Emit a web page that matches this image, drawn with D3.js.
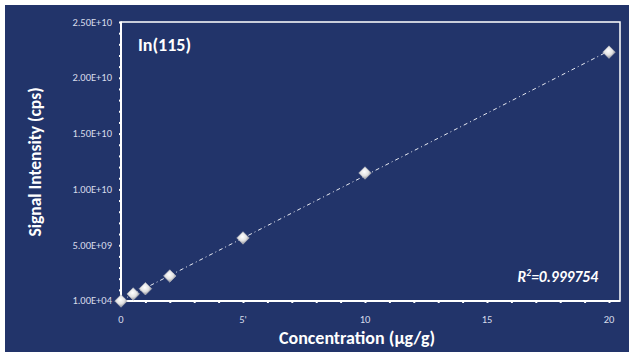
<!DOCTYPE html>
<html><head><meta charset="utf-8">
<script src="https://cdn.jsdelivr.net/npm/d3@7"></script>
<style>
html,body{margin:0;padding:0;background:#fff;}
svg{display:block;}
text{font-family:Calibri,Carlito,"Open Sans","Liberation Sans",sans-serif;}
</style></head><body>
<div id="chart"></div>
<script>
const concentrations = [0, 0.5, 1, 2, 5, 10, 20];
const intensities = [1.0e4, 6.3e8, 1.1e9, 2.24e9, 5.65e9, 1.147e10, 2.23e10];
const xTickValues = [0, 5, 10, 15, 20];
const xTickLabels = ["0", "5'", "10", "15", "20"];
const yTickValues = [1e4, 5e9, 1e10, 1.5e10, 2e10, 2.5e10];
const yTickLabels = ["1.00E+04", "5.00E+09", "1.00E+10", "1.50E+10", "2.00E+10", "2.50E+10"];
const chartTitle = "In(115)";
const r2Text = "0.999754";

const W = 629, H = 354;
const svg = d3.select("#chart").append("svg").attr("width", W).attr("height", H);
const defs = svg.append("defs");
const grad = defs.append("radialGradient").attr("id", "mk").attr("cx", "45%").attr("cy", "40%").attr("r", "60%");
grad.append("stop").attr("offset", "0%").attr("stop-color", "#ffffff");
grad.append("stop").attr("offset", "55%").attr("stop-color", "#e2e2e2");
grad.append("stop").attr("offset", "100%").attr("stop-color", "#8e8e96");
const blur = defs.append("filter").attr("id", "glow").attr("x", "-50%").attr("y", "-50%").attr("width", "200%").attr("height", "200%");
blur.append("feGaussianBlur").attr("stdDeviation", 0.6);

svg.append("rect").attr("x", 5).attr("y", 5).attr("width", W - 5).attr("height", 347).attr("fill", "#22346a");

const m = {left: 121, top: 22, right: 620, bottom: 301};
const x = d3.scaleLinear().domain([0, 20]).range([121, 609]);
const y = d3.scaleLinear().domain([0, 2.5e10]).range([m.bottom, m.top]);

// frame
svg.append("rect").attr("x", m.left).attr("y", m.top).attr("width", m.right - m.left).attr("height", m.bottom - m.top)
  .attr("fill", "none").attr("stroke", "#fff").attr("stroke-width", 1.5);

// x axis
const xMinor = d3.range(1, 21);
const gx = svg.append("g").attr("transform", `translate(0,${m.bottom})`);
gx.call(d3.axisBottom(x).tickValues(xMinor).tickSize(3).tickFormat(""));
gx.select(".domain").attr("d", `M${m.left},0H${m.right}`).attr("stroke", "#fff").attr("stroke-width", 2);
gx.selectAll(".tick line").attr("stroke", "#fff").attr("stroke-width", 2).attr("y1", -1).attr("y2", 2);
gx.selectAll(".xl").data(xTickValues).enter().append("text").attr("class", "xl")
  .attr("x", d => x(d)).attr("y", 22).attr("text-anchor", "middle")
  .attr("fill", "#d8dcea").attr("font-size", 10.5).text((d, i) => xTickLabels[i]);

// y axis
const yMinor = d3.range(1, 26).map(i => i * 1e9);
const gy = svg.append("g").attr("transform", `translate(${m.left},0)`);
gy.call(d3.axisLeft(y).tickValues(yMinor).tickSize(3).tickFormat(""));
gy.select(".domain").attr("d", `M0,${m.bottom}V${m.top}`).attr("stroke", "#fff").attr("stroke-width", 2);
gy.selectAll(".tick line").attr("stroke", "#fff").attr("stroke-width", 2).attr("x1", 1).attr("x2", -2);
gy.selectAll(".yl").data(yTickValues).enter().append("text").attr("class", "yl")
  .attr("x", -9).attr("y", d => y(d) + 3.5).attr("text-anchor", "end")
  .attr("fill", "#d8dcea").attr("font-size", 10.5).text((d, i) => yTickLabels[i]);

// trendline (least squares)
const n = concentrations.length;
const mx = d3.mean(concentrations), my = d3.mean(intensities);
let sxy = 0, sxx = 0;
for (let i = 0; i < n; i++) { sxy += (concentrations[i] - mx) * (intensities[i] - my); sxx += (concentrations[i] - mx) ** 2; }
const slope = sxy / sxx, icpt = my - slope * mx;
svg.append("line").attr("x1", x(0)).attr("y1", y(icpt)).attr("x2", x(20)).attr("y2", y(icpt + slope * 20))
  .attr("stroke", "#e8eaf2").attr("stroke-width", 1).attr("stroke-dasharray", "4,3,1,3");

// markers
svg.selectAll(".pt").data(concentrations).enter().append("path").attr("class", "pt")
  .attr("d", d3.symbol().type(d3.symbolDiamond2).size(100))
  .attr("transform", (d, i) => `translate(${x(d)},${y(intensities[i])})`)
  .attr("fill", "url(#mk)").attr("stroke", "#bdbdc4").attr("stroke-width", 0.6).attr("filter", "url(#glow)");

// title
svg.append("text").attr("x", 138).attr("y", 51).attr("fill", "#fff").attr("font-size", 18).attr("font-weight", "bold").text(chartTitle);

// R2
const r2 = svg.append("text").attr("x", 598).attr("y", 282).attr("text-anchor", "end").attr("fill", "#fff")
  .attr("font-size", 15.5).attr("font-weight", "bold").attr("font-style", "italic");
r2.append("tspan").text("R");
r2.append("tspan").attr("font-size", 9.5).attr("dy", -6).text("2");
r2.append("tspan").attr("dy", 6).text("=" + r2Text);

// axis titles
svg.append("text").attr("x", 357).attr("y", 344).attr("text-anchor", "middle")
  .attr("fill", "#fff").attr("font-size", 18).attr("font-weight", "bold").text("Concentration (µg/g)");
svg.append("text").attr("transform", `translate(41,162) rotate(-90)`).attr("text-anchor", "middle")
  .attr("fill", "#fff").attr("font-size", 17.5).attr("font-weight", "bold").text("Signal Intensity (cps)");
</script></body></html>
